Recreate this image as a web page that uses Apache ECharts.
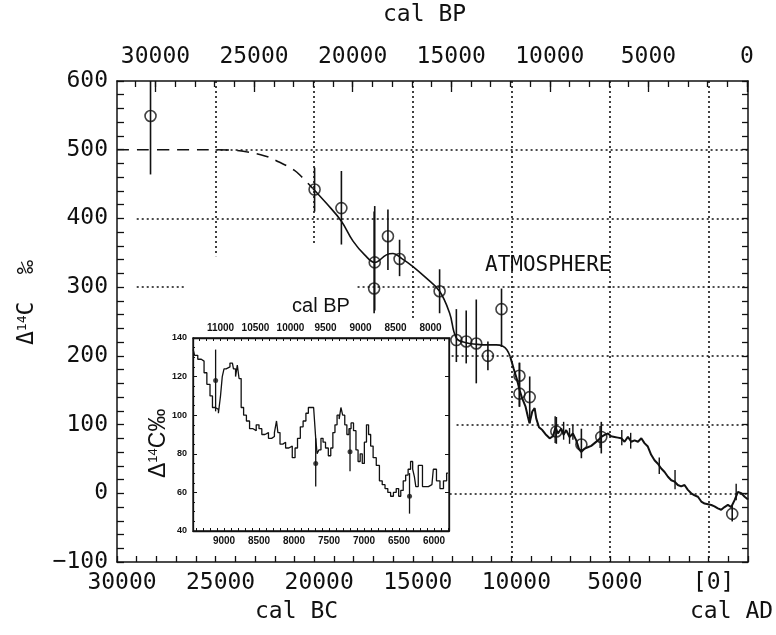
<!DOCTYPE html>
<html>
<head>
<meta charset="utf-8">
<script src="https://cdn.jsdelivr.net/npm/echarts@6/dist/echarts.min.js"></script>
<style>
  html, body { margin: 0; padding: 0; background: #fff; }
  #chart { width: 776px; height: 635px; }
</style>
</head>
<body>
<div id="chart"></div>
<script>
// ---- main panel: x = years BC (negative = AD), y = delta 14C permil ----
const bcLabels = [30000, 25000, 20000, 15000, 10000, 5000, 0];
const bpLabels = [30000, 25000, 20000, 15000, 10000, 5000, 0];

// extrapolated model curve (dashed)
const modelDashed = [
  [30000, 500], [27000, 500], [25000, 500], [24000, 499], [23440, 497],
  [22500, 491], [21920, 484], [21000, 470], [20650, 461], [20080, 444]
];
// model curve (solid, smooth)
const modelSolid = [
  [20080, 444], [19380, 422], [18620, 396], [18030, 367], [17440, 347],
  [16930, 336], [16340, 347], [16000, 349], [15580, 342], [14990, 330],
  [14310, 313], [13640, 294], [13130, 262], [12790, 226], [12290, 219],
  [11780, 217], [11270, 216], [10770, 216], [10430, 214], [10230, 209],
  [10060, 199]
];
// tree-ring / high resolution record
const detailCurve = [
  [10060, 199], [9890, 182], [9720, 166], [9580, 150], [9450, 138],
  [9280, 126], [9160, 111], [9080, 102], [8940, 119], [8820, 124],
  [8740, 109], [8600, 96], [8430, 92], [8270, 86], [8060, 80],
  [7890, 83], [7760, 96], [7640, 87], [7470, 94], [7350, 85],
  [7220, 92], [7050, 82], [6880, 87], [6710, 77], [6580, 65],
  [6460, 60], [6290, 65], [6120, 67], [5950, 69], [5780, 73],
  [5610, 77], [5440, 82], [5270, 85], [5100, 87], [4940, 83],
  [4770, 82], [4600, 81], [4430, 80], [4260, 75], [4090, 82],
  [3920, 75], [3750, 77], [3580, 75], [3410, 80], [3250, 73],
  [3080, 68], [2910, 56], [2740, 48], [2570, 43], [2400, 36],
  [2230, 31], [2060, 24], [1890, 19], [1720, 17], [1560, 12],
  [1390, 10], [1220, 12], [1050, 5], [880, 0], [710, -3],
  [540, -5], [370, -12], [200, -15], [30, -16], [-140, -17],
  [-300, -19], [-470, -22], [-640, -24], [-810, -20], [-980, -17],
  [-1150, -20], [-1320, -10], [-1490, 2], [-1660, 0], [-1830, -5],
  [-2000, -9]
];
// circles with error bars: [year BC, value, low, high]
const dataPoints = [
  [28300, 549, 464, 634], [19980, 442, 410, 474], [18620, 415, 362, 469],
  [16930, 336, 266, 418], [16960, 298, 262, 410], [16260, 374, 325, 413],
  [15670, 341, 316, 369], [13640, 294, 262, 326], [12790, 223, 191, 268],
  [12290, 221, 189, 266], [11780, 218, 160, 282], [11190, 200, 179, 221],
  [10500, 268, 213, 298], [9590, 171, 126, 190], [9590, 145, 126, 190],
  [9070, 140, 102, 170], [7720, 90, 72, 111], [6450, 71, 51, 94],
  [5440, 82, 58, 104], [-1200, -30, -41, -17]
];
// bare error bars on the detailed record: [year BC, low, high]
const smallBars = [
  [7780, 73, 112], [7350, 78, 104], [7050, 72, 95], [6880, 78, 100],
  [5500, 66, 98], [4400, 70, 92], [3950, 65, 88], [2500, 28, 52],
  [1700, 6, 34], [-1400, -10, 14]
];
// partial dotted grid: [value, from BC, to BC] and [BC, from value, to value]
const gridH = [
  [500, 25000, -2000], [400, 29000, -2000], [300, 29000, 26500],
  [300, 17800, -2000], [200, 13030, -2000], [100, 12780, -2000],
  [0, 13130, -2000]
];
const gridV = [
  [25000, 600, 345], [20000, 600, 361], [15000, 600, 255],
  [10000, 600, -100], [5000, 600, -100], [0, 600, -100]
];

// ---- inset: x = years BC, y = delta 14C permil ----
const insetBcLabels = [9000, 8500, 8000, 7500, 7000, 6500, 6000];
const insetBpLabels = [11000, 10500, 10000, 9500, 9000, 8500, 8000];
const insetCurve = [
  [9440, 134], [9400, 131], [9350, 129], [9300, 128], [9270, 122],
  [9220, 116], [9180, 110], [9150, 104], [9100, 103], [9060, 101],
  [9040, 110], [9010, 120], [8990, 124], [8950, 125], [8880, 127],
  [8850, 124], [8820, 120], [8800, 126], [8770, 119], [8740, 104],
  [8700, 100], [8660, 97], [8610, 93], [8560, 92], [8520, 95],
  [8480, 93], [8440, 90], [8390, 91], [8340, 88], [8300, 89],
  [8260, 91], [8240, 97], [8220, 91], [8180, 85], [8140, 86],
  [8100, 83], [8050, 84], [8000, 78], [7970, 83], [7930, 88],
  [7890, 94], [7850, 97], [7810, 101], [7780, 104], [7740, 104],
  [7700, 104], [7680, 88], [7660, 80], [7630, 82], [7600, 88],
  [7570, 86], [7530, 83], [7490, 79], [7460, 83], [7430, 91],
  [7400, 95], [7370, 100], [7340, 98], [7320, 104], [7290, 100],
  [7260, 95], [7230, 90], [7200, 93], [7170, 96], [7130, 92],
  [7100, 82], [7070, 76], [7040, 80], [7010, 75], [6980, 86],
  [6950, 95], [6920, 90], [6890, 84], [6850, 78], [6800, 74],
  [6760, 66], [6720, 64], [6680, 62], [6640, 60], [6600, 58],
  [6560, 60], [6520, 62], [6490, 58], [6460, 61], [6420, 66],
  [6390, 69], [6350, 72], [6320, 76], [6290, 72], [6270, 68],
  [6250, 63], [6200, 74], [6130, 63], [6030, 64], [5990, 72],
  [5940, 66], [5890, 62], [5840, 66], [5800, 70]
];
// [year BC, value, low, high]
const insetPoints = [
  [9120, 118, 102, 134], [7690, 75, 63, 88], [7200, 81, 71, 93], [6350, 58, 49, 70]
];

function range(a, b, step) {
  const out = [];
  for (let v = a; v <= b; v += step) out.push(v);
  return out;
}

const MONO = '"DejaVu Sans Mono", monospace';
const SANS = '"Liberation Sans", Arial, sans-serif';
const INK = '#111';

const chart = echarts.init(document.getElementById('chart'));

function barItem(width) {
  return function (params, api) {
    const x = api.value(0);
    const lo = api.coord([x, api.value(1)]);
    const hi = api.coord([x, api.value(2)]);
    return {
      type: 'line',
      shape: { x1: lo[0], y1: lo[1], x2: hi[0], y2: hi[1] },
      style: { stroke: INK, lineWidth: width }
    };
  };
}

const gridMarks = [];
gridH.forEach(function (g) {
  gridMarks.push([{ coord: [g[1], g[0]] }, { coord: [g[2], g[0]] }]);
});
gridV.forEach(function (g) {
  gridMarks.push([{ coord: [g[0], g[1]] }, { coord: [g[0], g[2]] }]);
});

const plain = function (v) { return String(v); };

const option = {
  animation: false,
  backgroundColor: '#fff',
  grid: [
    { left: 117, right: 28, top: 81, bottom: 73, show: false },
    { left: 193, top: 338, width: 256, height: 193, show: true, z: 10,
      backgroundColor: '#fff', borderColor: INK, borderWidth: 1.3 }
  ],
  xAxis: [
    { // bottom: cal BC
      gridIndex: 0, type: 'value', position: 'bottom', inverse: true,
      min: -2000, max: 30000,
      axisLine: { onZero: false, lineStyle: { color: INK, width: 1.5 } },
      axisTick: { inside: true, length: 6, customValues: range(-2000, 30000, 1000), lineStyle: { color: INK, width: 1.3 } },
      axisLabel: {
        customValues: bcLabels, margin: 10, padding: [0, 0, 0, 10],
        fontFamily: MONO, fontSize: 23, color: INK,
        formatter: function (v) { return v === 0 ? '[0]' : String(v); }
      },
      splitLine: { show: false }
    },
    { // top: cal BP
      gridIndex: 0, type: 'value', position: 'top', inverse: true,
      min: -50, max: 31950,
      axisLine: { onZero: false, lineStyle: { color: INK, width: 1.5 } },
      axisTick: { inside: true, length: 6, customValues: range(0, 31000, 1000), lineStyle: { color: INK, width: 1.3 } },
      axisLabel: { customValues: bpLabels, margin: 12, fontFamily: MONO, fontSize: 23, color: INK, formatter: plain },
      splitLine: { show: false }
    },
    { // top: long ticks every 5000 BP
      gridIndex: 0, type: 'value', position: 'top', inverse: true,
      min: -50, max: 31950,
      axisLine: { show: false, onZero: false },
      axisTick: { inside: true, length: 11, customValues: range(0, 30000, 5000), lineStyle: { color: INK, width: 1.3 } },
      axisLabel: { show: false },
      splitLine: { show: false }
    },
    { // inset bottom: cal BC
      gridIndex: 1, type: 'value', position: 'bottom', inverse: true,
      min: 5786, max: 9443, z: 12,
      axisLine: { onZero: false, lineStyle: { color: INK, width: 1.3 } },
      axisTick: { inside: true, length: 3, customValues: range(5800, 9400, 100), lineStyle: { color: INK } },
      axisLabel: { customValues: insetBcLabels, margin: 5, fontFamily: SANS, fontSize: 10, fontWeight: 'bold', color: INK, formatter: plain },
      splitLine: { show: false }
    },
    { // inset top: cal BP
      gridIndex: 1, type: 'value', position: 'top', inverse: true,
      min: 7736, max: 11393, z: 12,
      name: 'cal BP', nameLocation: 'middle', nameGap: 22,
      nameTextStyle: { fontFamily: SANS, fontSize: 20, color: INK },
      axisLine: { onZero: false, lineStyle: { color: INK, width: 1.3 } },
      axisTick: { inside: true, length: 3, customValues: range(7800, 11300, 100), lineStyle: { color: INK } },
      axisLabel: { customValues: insetBpLabels, margin: 5, fontFamily: SANS, fontSize: 10, fontWeight: 'bold', color: INK, formatter: plain },
      splitLine: { show: false }
    }
  ],
  yAxis: [
    { // main left
      gridIndex: 0, type: 'value', min: -100, max: 600, interval: 100,
      axisLine: { show: true, onZero: false, lineStyle: { color: INK, width: 1.5 } },
      axisTick: { show: true, inside: true, length: 7, lineStyle: { color: INK, width: 1.3 } },
      minorTick: { show: true, splitNumber: 5, length: 7, lineStyle: { color: INK, width: 1.3 } },
      axisLabel: {
        margin: 9, fontFamily: MONO, fontSize: 23, color: INK,
        formatter: function (v) { return v < 0 ? '\u2212' + (-v) : String(v); }
      },
      splitLine: { show: false }
    },
    { // main right
      gridIndex: 0, type: 'value', position: 'right', min: -100, max: 600, interval: 20,
      axisLine: { show: true, onZero: false, lineStyle: { color: INK, width: 1.5 } },
      axisTick: { show: true, inside: true, length: 6, lineStyle: { color: INK, width: 1.3 } },
      axisLabel: { show: false },
      splitLine: { show: false }
    },
    { // inset left
      gridIndex: 1, type: 'value', min: 40, max: 140, interval: 20, z: 12,
      axisLine: { show: true, onZero: false, lineStyle: { color: INK, width: 1.3 } },
      axisTick: { show: true, inside: true, length: 4, lineStyle: { color: INK } },
      minorTick: { show: true, splitNumber: 4, length: 2, lineStyle: { color: INK } },
      axisLabel: { margin: 6, fontFamily: SANS, fontSize: 9, fontWeight: 'bold', color: INK },
      splitLine: { show: false }
    },
    { // inset right
      gridIndex: 1, type: 'value', position: 'right', min: 40, max: 140, interval: 20, z: 12,
      axisLine: { show: true, onZero: false, lineStyle: { color: INK, width: 1.3 } },
      axisTick: { show: true, inside: true, length: 4, lineStyle: { color: INK } },
      axisLabel: { show: false },
      splitLine: { show: false }
    }
  ],
  graphic: [
    { type: 'text', left: 383, top: 4,
      style: { text: 'cal BP', fontFamily: MONO, fontSize: 23, fill: INK } },
    { type: 'text', left: 255, top: 601,
      style: { text: 'cal BC', fontFamily: MONO, fontSize: 23, fill: INK } },
    { type: 'text', left: 690, top: 601,
      style: { text: 'cal AD', fontFamily: MONO, fontSize: 23, fill: INK } },
    { type: 'text', left: 485, top: 255,
      style: { text: 'ATMOSPHERE', fontFamily: MONO, fontSize: 21, fill: INK } },
    { type: 'text', x: 16, y: 345, rotation: Math.PI / 2,
      style: {
        text: '{d|\u0394}{s|14}{d|C  \u2030}',
        rich: {
          d: { fontFamily: MONO, fontSize: 23, fill: INK, verticalAlign: 'bottom' },
          s: { fontFamily: MONO, fontSize: 13, fill: INK, verticalAlign: 'top', padding: [0, 0, 10, 0] }
        }
      } },
    { type: 'text', x: 147, y: 478, rotation: Math.PI / 2, z: 30,
      style: {
        text: '{d|\u0394}{s|14}{d|C\u2030}',
        rich: {
          d: { fontFamily: SANS, fontSize: 23, fill: INK },
          s: { fontFamily: SANS, fontSize: 13, fill: INK, padding: [0, 0, 10, 0] }
        }
      } }
  ],
  series: [
    {
      type: 'line', xAxisIndex: 0, yAxisIndex: 0, data: modelDashed,
      symbol: 'none', smooth: 0.4,
      lineStyle: { color: INK, width: 1.6, type: [12, 8] },
      markLine: {
        silent: true, symbol: ['none', 'none'], label: { show: false },
        lineStyle: { color: INK, width: 1.6, type: [2, 3] },
        data: gridMarks
      },
      z: 3
    },
    {
      type: 'line', xAxisIndex: 0, yAxisIndex: 0, data: modelSolid,
      symbol: 'none', smooth: 0.4,
      lineStyle: { color: INK, width: 1.6 }, z: 3
    },
    {
      type: 'line', xAxisIndex: 0, yAxisIndex: 0, data: detailCurve,
      symbol: 'none', lineStyle: { color: INK, width: 2 }, z: 3
    },
    {
      type: 'custom', xAxisIndex: 0, yAxisIndex: 0, clip: true,
      data: dataPoints.map(function (p) { return [p[0], p[2], p[3]]; }),
      renderItem: barItem(1.6), z: 4
    },
    {
      type: 'custom', xAxisIndex: 0, yAxisIndex: 0, clip: true,
      data: smallBars, renderItem: barItem(1.4), z: 4
    },
    {
      type: 'scatter', xAxisIndex: 0, yAxisIndex: 0,
      data: dataPoints.map(function (p) { return [p[0], p[1]]; }),
      symbol: 'circle', symbolSize: 11,
      itemStyle: { color: 'rgba(255,255,255,0)', borderColor: INK, borderWidth: 1.6 },
      z: 5
    },
    {
      type: 'line', xAxisIndex: 3, yAxisIndex: 2, data: insetCurve,
      symbol: 'none', step: 'middle', lineStyle: { color: INK, width: 1.3 }, z: 20
    },
    {
      type: 'custom', xAxisIndex: 3, yAxisIndex: 2, clip: true,
      data: insetPoints.map(function (p) { return [p[0], p[2], p[3]]; }),
      renderItem: barItem(1.3), z: 21
    },
    {
      type: 'scatter', xAxisIndex: 3, yAxisIndex: 2,
      data: insetPoints.map(function (p) { return [p[0], p[1]]; }),
      symbol: 'circle', symbolSize: 5, itemStyle: { color: INK }, z: 22
    }
  ]
};

chart.setOption(option);
</script>
</body>
</html>
